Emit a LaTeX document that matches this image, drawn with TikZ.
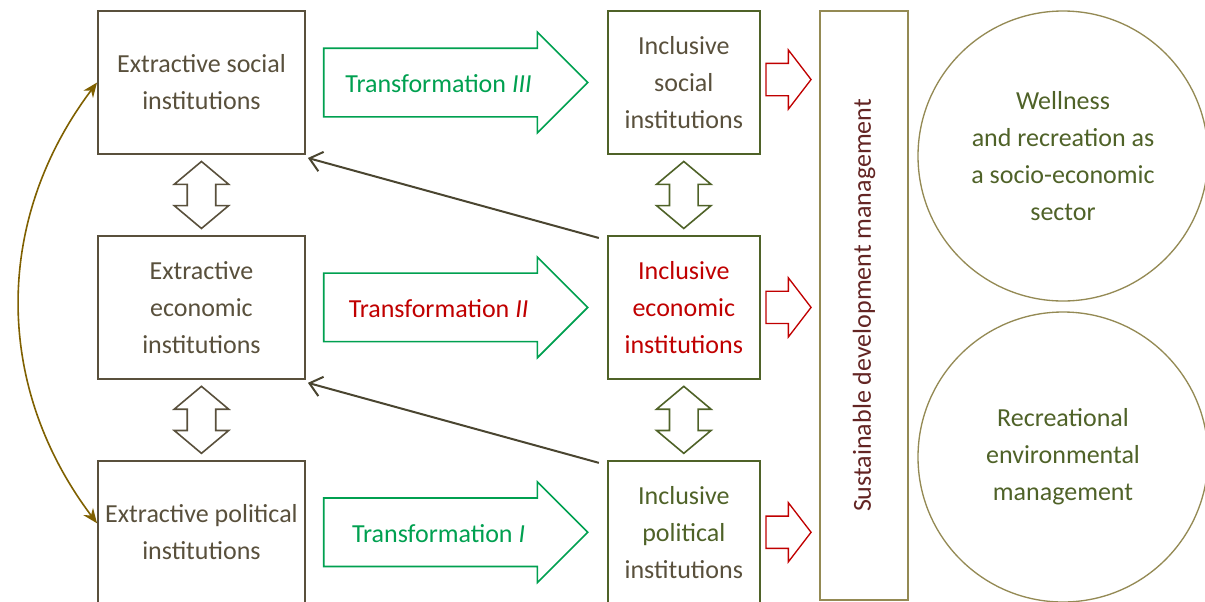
\documentclass[tikz,border=0pt]{standalone}
\usepackage{fontspec}
\setmainfont{Carlito}
\usepackage{tikz}
\usetikzlibrary{shapes.geometric,shapes.arrows,arrows.meta,positioning}
\definecolor{extgray}{RGB}{89,80,60}
\definecolor{incgreen}{RGB}{79,98,40}
\definecolor{trgreen}{RGB}{0,160,80}
\definecolor{hired}{RGB}{192,0,0}
\definecolor{sdmborder}{RGB}{148,138,84}
\definecolor{sdmtext}{RGB}{99,37,35}
\definecolor{curvebrown}{RGB}{127,96,0}
\definecolor{backgray}{RGB}{74,69,48}
\newcommand{\boxfont}{\fontsize{19.5}{27.75}\selectfont}
\tikzstyle{extract} = [rectangle, minimum width = 155.25pt, minimum height = 107.25pt, text centered, align = center, draw = extgray, line width = 1.4pt, text = extgray, font = \boxfont]
\tikzstyle{inclus} = [rectangle, minimum width = 114pt, minimum height = 107.25pt, text centered, align = center, draw = incgreen, line width = 1.4pt, text = extgray, font = \boxfont]
\tikzstyle{transform} = [single arrow, draw = trgreen, line width = 1.2pt, minimum height = 198pt, single arrow head extend = 12pt, text height = 15.5pt, text depth = 0.5pt, inner ysep = 17.1pt, inner xsep = 0pt, text = trgreen, font = \boxfont]
\tikzstyle{redarrow} = [single arrow, draw = hired, line width = 1pt, minimum height = 33.75pt, single arrow head extend = 10.1pt, single arrow tip angle = 105, inner ysep = 11.6pt, inner xsep = 0pt]
\tikzstyle{twoway} = [double arrow, draw, line width = 1.2pt, rotate = 90, minimum height = 50.25pt, double arrow head extend = 9.75pt, double arrow tip angle = 100, inner ysep = 10.1pt, inner xsep = 0pt]
\tikzstyle{outcome} = [circle, minimum size = 217.5pt, draw = sdmborder, line width = 1pt, text = incgreen, align = center, font = \boxfont]
\tikzstyle{backarrow} = [line width = 1.5pt, draw = backgray, -{Straight Barb[length = 9pt, width = 15pt]}]

\begin{document}
\begin{tikzpicture}
\useasboundingbox (0,0) rectangle (903.75pt,-450.75pt);

\node(ext1) [extract] at (151.1pt,-61.9pt) {Extractive social\\institutions};
\node(ext2) [extract, below = 60pt of ext1] {Extractive\\economic\\institutions};
\node(ext3) [extract, below = 60pt of ext2] {Extractive political\\institutions};

\node(trans3) [transform, right = 12.75pt of ext1] {Transformation \textit{III}};
\node(trans2) [transform, right = 12.75pt of ext2, text = hired] {Transformation \textit{II}};
\node(trans1) [transform, right = 12.75pt of ext3] {Transformation \textit{I}};

\node(inc1) [inclus, right = 13.5pt of trans3] {Inclusive\\social\\institutions};
\node(inc2) [inclus, right = 13.5pt of trans2, text = hired] {Inclusive\\economic\\institutions};
\node(inc3) [inclus, right = 13.5pt of trans1] {\textcolor{incgreen}{Inclusive}\\\textcolor{incgreen}{political}\\institutions};

\node(red1) [redarrow, right = 3.5pt of inc1, yshift = 2.25pt] {};
\node(red2) [redarrow, right = 3.5pt of inc2] {};
\node(red3) [redarrow, right = 3.5pt of inc3] {};

\node(sdm) [rectangle, rotate = 90, minimum width = 441.75pt, minimum height = 66pt, draw = sdmborder, line width = 1pt, text = sdmtext, font = \boxfont] at (648pt,-229.1pt) {Sustainable development management};

\node(wellness) [outcome] at (797.25pt,-117pt) {Wellness\\and recreation as\\a socio-economic\\sector};
\node(recenv) [outcome] at (797.25pt,-342.75pt) {Recreational\\environmental\\management};

\path (ext1) -- node(dbl1) [twoway, draw = extgray] {} (ext2);
\path (ext2) -- node(dbl2) [twoway, draw = extgray] {} (ext3);
\path (inc1) -- node(dbl3) [twoway, draw = incgreen] {} (inc2);
\path (inc2) -- node(dbl4) [twoway, draw = incgreen] {} (inc3);

\draw [backarrow] ([xshift = -6pt, yshift = -2.25pt]inc2.north west) -- ([xshift = 1.5pt, yshift = -2.25pt]ext1.south east);
\draw [backarrow] ([xshift = -6pt, yshift = -2.25pt]inc3.north west) -- ([xshift = 1.5pt, yshift = -2.25pt]ext2.south east);

\draw [curvebrown, line width = 1.2pt, {Stealth[length = 11pt, width = 9pt]}-{Stealth[length = 11pt, width = 9pt]}] (ext1.west) to[bend right = 37] ([yshift = 6.75pt]ext3.west);

\end{tikzpicture}
\end{document}
